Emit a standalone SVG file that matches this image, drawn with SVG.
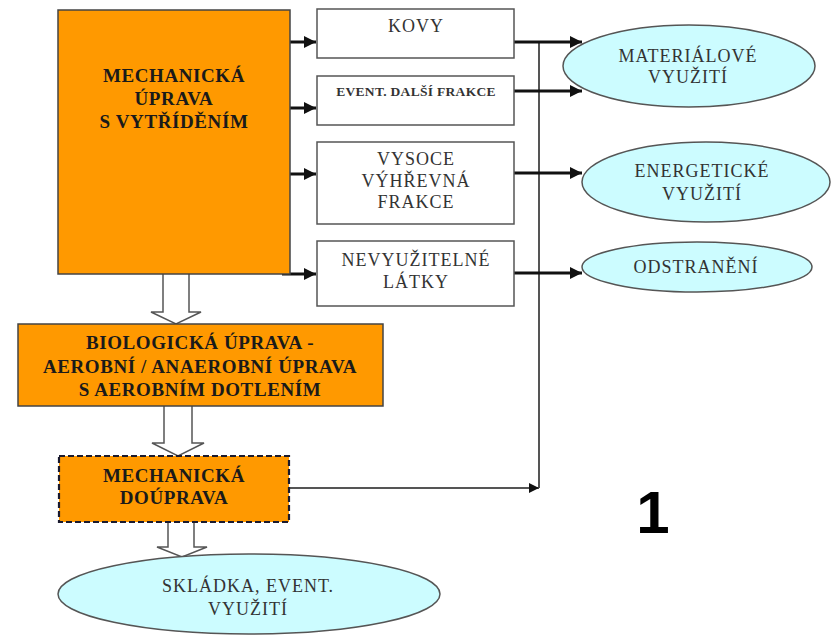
<svg xmlns="http://www.w3.org/2000/svg" width="836" height="636" viewBox="0 0 836 636">
  <defs>
    <marker id="head" viewBox="0 0 10 10" refX="10" refY="5" markerWidth="5" markerHeight="4" markerUnits="strokeWidth" orient="auto">
      <path d="M0,0 L10,5 L0,10 z" fill="#111"/>
    </marker>
    <marker id="headThin" viewBox="0 0 10 10" refX="10" refY="5" markerWidth="6" markerHeight="5" markerUnits="strokeWidth" orient="auto">
      <path d="M0,0 L10,5 L0,10 z" fill="#111"/>
    </marker>
  </defs>
  <style>
    .step { fill: #FF9900; stroke: #444; stroke-width: 1.5; }
    .dashed { fill: #FF9900; stroke: #1a1a2e; stroke-width: 2.2; stroke-dasharray: 6 3; }
    .box { fill: #fff; stroke: #555; stroke-width: 1.5; }
    .out { fill: #CCFCFF; stroke: #555; stroke-width: 1.5; }
    .bold { font-family: "Liberation Serif", "DejaVu Serif", serif; font-weight: bold; font-size: 19px; letter-spacing: 0.6px; fill: #1a1a1a; text-anchor: middle; }
    .reg { font-family: "Liberation Serif", "DejaVu Serif", serif; font-size: 18px; letter-spacing: 1px; fill: #333; text-anchor: middle; }
    .small { font-family: "Liberation Serif", "DejaVu Serif", serif; font-weight: bold; font-size: 13.5px; letter-spacing: 0.3px; fill: #333; text-anchor: middle; }
    .flow { stroke: #111; stroke-width: 3; fill: none; }
    .thin { stroke: #555; stroke-width: 2; fill: none; }
    .block { fill: #fff; stroke: #555; stroke-width: 1.5; }
  </style>

  <!-- connectors -->
  <g id="connectors">
    <!-- main step to fractions -->
    <line class="flow" x1="282" y1="42" x2="316" y2="42" marker-end="url(#head)"/>
    <line class="flow" x1="282" y1="108" x2="316" y2="108" marker-end="url(#head)"/>
    <line class="flow" x1="282" y1="174" x2="316" y2="174" marker-end="url(#head)"/>
    <line class="flow" x1="282" y1="274" x2="316" y2="274" marker-end="url(#head)"/>
    <!-- fractions to uses -->
    <line class="thin" x1="539" y1="42" x2="539" y2="488"/>
    <line class="flow" x1="514" y1="42" x2="582" y2="42" marker-end="url(#head)"/>
    <line class="flow" x1="514" y1="91" x2="582" y2="91" marker-end="url(#head)"/>
    <line class="flow" x1="514" y1="173" x2="582" y2="173" marker-end="url(#head)"/>
    <line class="flow" x1="514" y1="273" x2="582" y2="273" marker-end="url(#head)"/>
    <!-- post-treatment output -->
    <line class="thin" x1="290" y1="488" x2="539" y2="488" marker-end="url(#headThin)"/>
    <!-- hollow block arrows between stages -->
    <path class="block" d="M163,274 L163,312 L151,312 L176,324 L201,312 L189,312 L189,274"/>
    <path class="block" d="M164,406 L164,443 L152,443 L178,456 L204,443 L192,443 L192,406"/>
    <path class="block" d="M168,522 L168,547 L157,547 L182,557 L207,547 L194,547 L194,522"/>
  </g>

  <g id="mechanical">
    <rect class="step" x="58" y="10" width="232" height="264"/>
    <text class="bold" x="174" y="82">MECHANICKÁ</text>
    <text class="bold" x="174" y="105">ÚPRAVA</text>
    <text class="bold" x="174" y="128">S VYTŘÍDĚNÍM</text>
  </g>

  <g id="kovy">
    <rect class="box" x="317" y="9" width="197" height="49"/>
    <text class="reg" x="416" y="32">KOVY</text>
  </g>

  <g id="dalsi">
    <rect class="box" x="317" y="76" width="197" height="49"/>
    <text class="small" x="416" y="96">EVENT. DALŠÍ FRAKCE</text>
  </g>

  <g id="vyhrevna">
    <rect class="box" x="317" y="142" width="197" height="82"/>
    <text class="reg" x="416" y="165">VYSOCE</text>
    <text class="reg" x="416" y="187">VÝHŘEVNÁ</text>
    <text class="reg" x="416" y="208">FRAKCE</text>
  </g>

  <g id="nevyuzitelne">
    <rect class="box" x="317" y="241" width="197" height="65"/>
    <text class="reg" x="416" y="266">NEVYUŽITELNÉ</text>
    <text class="reg" x="416" y="288">LÁTKY</text>
  </g>

  <g id="materialove">
    <ellipse class="out" cx="689" cy="66" rx="126" ry="41"/>
    <text class="reg" x="688" y="62">MATERIÁLOVÉ</text>
    <text class="reg" x="688" y="83">VYUŽITÍ</text>
  </g>

  <g id="energeticke">
    <ellipse class="out" cx="706" cy="182" rx="124" ry="40"/>
    <text class="reg" x="702" y="177">ENERGETICKÉ</text>
    <text class="reg" x="702" y="200">VYUŽITÍ</text>
  </g>

  <g id="odstraneni">
    <ellipse class="out" cx="697" cy="267" rx="115" ry="25"/>
    <text class="reg" x="696" y="273">ODSTRANĚNÍ</text>
  </g>

  <g id="biologicka">
    <rect class="step" x="18" y="324" width="365" height="82"/>
    <text class="bold" x="200" y="349">BIOLOGICKÁ ÚPRAVA -</text>
    <text class="bold" x="200" y="373">AEROBNÍ / ANAEROBNÍ ÚPRAVA</text>
    <text class="bold" x="200" y="396">S AEROBNÍM DOTLENÍM</text>
  </g>

  <g id="douprava">
    <rect class="dashed" x="59" y="456" width="230" height="66"/>
    <text class="bold" x="174" y="482">MECHANICKÁ</text>
    <text class="bold" x="174" y="504">DOÚPRAVA</text>
  </g>

  <g id="skladka">
    <ellipse class="out" cx="249" cy="594" rx="191" ry="40"/>
    <text class="reg" x="248" y="592">SKLÁDKA, EVENT.</text>
    <text class="reg" x="248" y="615">VYUŽITÍ</text>
  </g>

  <text x="653" y="533" font-family="Liberation Sans, Arial, sans-serif" font-weight="bold" font-size="60" text-anchor="middle" fill="#000">1</text>
</svg>
